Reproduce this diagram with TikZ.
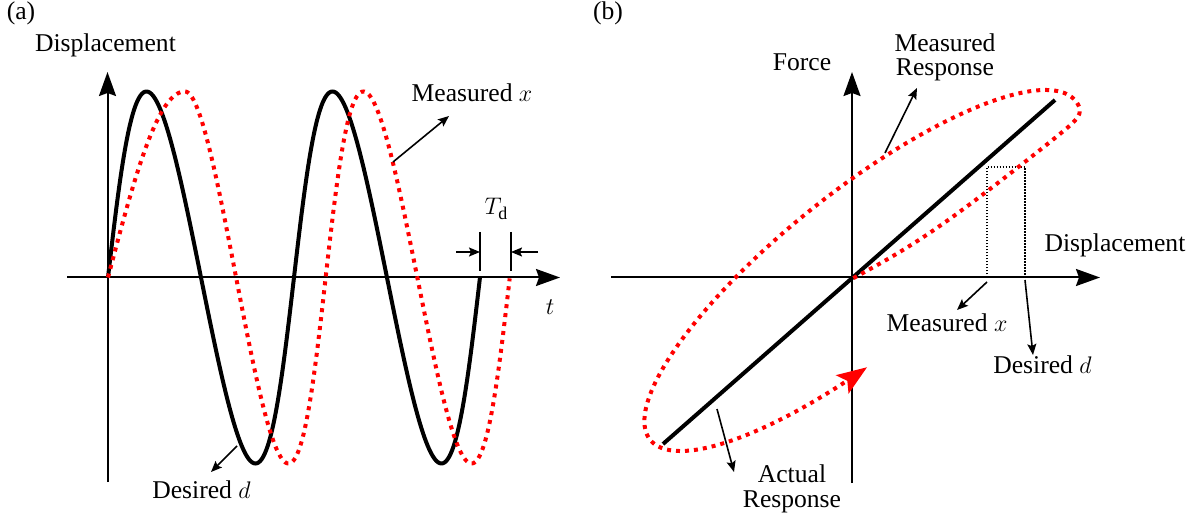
\documentclass[tikz,border=0pt]{standalone}
\usepackage{fontspec}
\setmainfont{Liberation Serif}
\usetikzlibrary{arrows.meta}
\begin{document}
\begin{tikzpicture}[x=0.5pt,y=-0.5pt,
  lbl/.style={inner sep=0pt, font=\fontsize{12.8}{12.3}\selectfont},
  axis/.style={line width=1pt, -{Stealth[length=12pt,width=8.5pt,inset=1.5pt]}},
  ann/.style={line width=0.8pt, -{Stealth[length=5.5pt,width=4.5pt,inset=1pt]}},
  desired/.style={line width=2pt},
  measured/.style={red, line width=2pt, dash pattern=on 2pt off 2.5pt},
  thindot/.style={line width=0.6pt, dash pattern=on 0.6pt off 0.9pt},
]
\useasboundingbox (0,0) rectangle (1200,518);

% ---------- panel (a) ----------
\coordinate (axL) at (67,277.5);
\coordinate (axR) at (560,277.5);
\coordinate (ayB) at (107.5,482);
\coordinate (ayT) at (107.5,72);
\draw[axis] (axL) -- (axR);
\draw[axis] (ayB) -- (ayT);

\draw[desired] plot[domain=0:12.566, samples=300]
  ({108+29.6*(\x-0.27*sin(\x r))}, {277.5-186*sin(\x r)});
\draw[measured] plot[domain=0:1.5708, samples=40]
  ({108+48.9*\x}, {277.5-186*sin(\x r)})
  -- plot[domain=1.5708:12.566, samples=300]
  ({108+29.6*(\x-0.27*sin(\x r))+29.5+9*exp(-0.3*(\x-1.5708))}, {277.5-186*sin(\x r)});

\node[lbl, anchor=base] (la) at (21,20) {(a)};
\node[lbl, anchor=base] (ylab) at (105.5,52) {Displacement};
\node[lbl, anchor=base] (tlab) at (550,315) {$t$};
\node[lbl, anchor=base] (tdlab) at (496.5,215) {$T_\mathrm{d}$};
\node[lbl, anchor=base] (mxa) at (472,102) {Measured $x$};
\node[lbl, anchor=base] (dda) at (201.5,498) {Desired $d$};

% T_d marks
\coordinate (td1t) at (480,232);
\coordinate (td1b) at (480,271);
\coordinate (td2t) at (511,232);
\coordinate (td2b) at (511,271);
\draw[line width=1pt] (td1t) -- (td1b);
\draw[line width=1pt] (td2t) -- (td2b);
\coordinate (tdA) at (456,252);
\coordinate (tdAe) at (480,252);
\coordinate (tdB) at (538,252);
\coordinate (tdBe) at (511,252);
\draw[ann] (tdA) -- (tdAe);
\draw[ann] (tdB) -- (tdBe);

\coordinate (mxaS) at (393,162);
\coordinate (mxaE) at (449,116);
\draw[ann] (mxaS) -- (mxaE);
\coordinate (ddaS) at (237,446);
\coordinate (ddaE) at (211,472);
\draw[ann] (ddaS) -- (ddaE);

% ---------- panel (b) ----------
\coordinate (bxL) at (611,277.5);
\coordinate (bxR) at (1100,277.5);
\coordinate (byB) at (852,483);
\coordinate (byT) at (852,72);
\draw[axis] (bxL) -- (bxR);
\draw[axis] (byB) -- (byT);

\coordinate (blA) at (663,444);
\coordinate (blB) at (1055,100);
\draw[desired] (blA) -- (blB);

\coordinate (r1) at (987,277.5);
\coordinate (r2) at (987,167);
\coordinate (r3) at (1025,167);
\coordinate (r4) at (1025,277.5);
\draw[thindot] (r1) -- (r2) -- (r3) -- (r4);

\draw[measured, -{Stealth[length=15pt,width=11pt,inset=3pt]}]
  plot[domain=-1.616:0, samples=60]
  ({863+272*cos(\x r)*0.7826-16*tanh(5*\x)*tanh(3*(\x+1.616))*0.6225},
   {270.5-272*cos(\x r)*0.6225-16*tanh(5*\x)*tanh(3*(\x+1.616))*0.7826})
  -- plot[domain=0:4.503, samples=220]
  ({863+272*cos(\x r)*0.7826-80*sin(\x r)*0.6225},
   {270.5-272*cos(\x r)*0.6225-80*sin(\x r)*0.7826});

\node[lbl, anchor=base] (lb) at (608,20) {(b)};
\node[lbl, anchor=base] (force) at (802,71) {Force};
\node[lbl, anchor=north, align=center] (mresp) at (945,33) {Measured\\Response};
\node[lbl, anchor=base] (xlabb) at (1115,252) {Displacement};
\node[lbl, anchor=base] (mxb) at (947,332) {Measured $x$};
\node[lbl, anchor=base] (ddb) at (1042.5,373) {Desired $d$};
\node[lbl, anchor=north, align=center] (aresp) at (792,464.5) {Actual\\Response};

\coordinate (mrS) at (885,153);
\coordinate (mrE) at (917,88);
\draw[ann] (mrS) -- (mrE);
\coordinate (mxbS) at (987,282);
\coordinate (mxbE) at (957,310);
\draw[ann] (mxbS) -- (mxbE);
\coordinate (ddbS) at (1025,280);
\coordinate (ddbE) at (1033,355);
\draw[ann] (ddbS) -- (ddbE);
\coordinate (arS) at (717,409);
\coordinate (arE) at (734,472);
\draw[ann] (arS) -- (arE);
\end{tikzpicture}
\end{document}
